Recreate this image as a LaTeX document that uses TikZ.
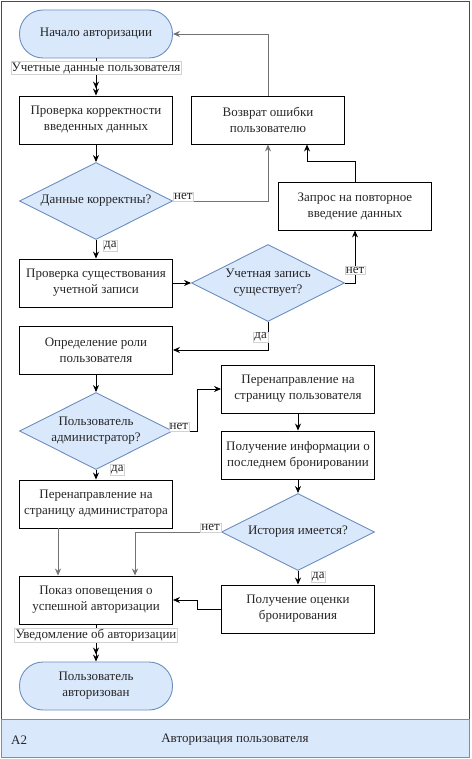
\documentclass[tikz,border=0pt]{standalone}
\usepackage{fontspec}
\setmainfont{Liberation Serif}
\usetikzlibrary{shapes.geometric,arrows.meta}
\definecolor{fillblue}{HTML}{DAE8FC}
\definecolor{lineblue}{HTML}{6C8EBF}
\begin{document}
\begin{tikzpicture}[
  x=1pt, y=-1pt,
  every node/.style={font=\fontsize{13}{16}\selectfont, align=center, inner sep=1pt, text=black!85},
  proc/.style={draw, line width=0.9pt, rectangle, minimum width=153pt, minimum height=48pt},
  term/.style={draw=lineblue, fill=fillblue, line width=0.9pt, rounded corners=23.5pt, minimum width=153pt, minimum height=48pt},
  decide/.style={draw=lineblue, fill=fillblue, line width=0.9pt, diamond, aspect=2, minimum width=153pt, minimum height=77pt, inner sep=0pt},
  lbl/.style={draw=gray!35, fill=white, line width=0.4pt, font=\fontsize{13}{15}\selectfont, inner sep=1pt},
  flow/.style={line width=0.9pt, -{Stealth[length=7pt,width=6pt]}},
  gflow/.style={flow, draw=black!55},
  dflow/.style={line width=0.9pt, -{Stealth[length=7pt,width=6pt]Stealth[length=7pt,width=6pt]}}
]
  \useasboundingbox (0,0) rectangle (471,759);
  % frame and title band
  \draw[black!70, line width=0.9pt] (1,1) rectangle (469,757);
  \draw[black!45, fill=fillblue, line width=0.9pt] (1,719) rectangle (469,757);
  \node[anchor=west] (code) at (10,740) {A2};
  \node (title) at (235,740) {Авторизация пользователя};

  % left column
  \node[term] (start) at (96,34) {Начало авторизации};
  \node[proc] (check) at (96,120) {Проверка корректности\\введенных данных};
  \node[decide] (valid) at (96,201) {Данные корректны?};
  \node[proc] (exist) at (96,283) {Проверка существования\\учетной записи};
  \node[proc] (role) at (96,350) {Определение роли\\пользователя};
  \node[decide] (admin) at (96,431) {Пользователь\\администратор?};
  \node[proc] (adminpg) at (96,504) {Перенаправление на\\страницу администратора};
  \node[proc] (notify) at (96,600) {Показ оповещения о\\успешной авторизации};
  \node[term] (done) at (96,686) {Пользователь\\авторизован};

  % right columns
  \node[proc] (err) at (268,120) {Возврат ошибки\\пользователю};
  \node[decide] (acc) at (268,283) {Учетная запись\\существует?};
  \node[proc] (retry) at (355,206) {Запрос на повторное\\введение данных};
  \node[proc] (userpg) at (298,389) {Перенаправление на\\страницу пользователя};
  \node[proc] (info) at (298,455) {Получение информации о\\последнем бронировании};
  \node[decide] (hist) at (298,532) {История имеется?};
  \node[proc] (rate) at (298,609) {Получение оценки\\бронирования};

  % connectors
  \draw[dflow] (start) -- node[lbl, pos=0.26] {Учетные данные пользователя} (check);
  \draw[flow] (check) -- (valid);
  \draw[gflow] (valid.east) -| node[lbl, pos=0, anchor=south west] {нет} (err.south);
  \draw[gflow] (err.north) |- (start.east);
  \draw[flow] (valid) -- node[lbl, pos=0, anchor=north west, xshift=7pt] {да} (exist);
  \draw[flow] (exist) -- (acc);
  \draw[flow] (acc.east) -| node[lbl, pos=0.62] {нет} (retry.south);
  \draw[flow] (retry.north) |- ++(0,-20) -| ([xshift=39pt]err.south);
  \draw[flow] (acc.south) |- node[lbl, pos=0.27, anchor=east] {да} (role.east);
  \draw[flow] (role) -- (admin);
  \draw[flow] (admin.east) -- node[lbl, pos=0.25, above] {нет} ++(24,0) |- (userpg.west);
  \draw[flow] (admin) -- node[lbl, pos=0, anchor=west, xshift=14pt] {да} (adminpg);
  \draw[flow] (userpg) -- (info);
  \draw[flow] (info) -- (hist);
  \draw[gflow] (hist.west) -| node[lbl, pos=0, anchor=south east] {нет} ([xshift=39pt]notify.north);
  \draw[flow] (hist) -- node[lbl, pos=0, anchor=north west, xshift=13pt] {да} (rate);
  \draw[flow] (rate.west) -- ++(-24,0) |- (notify.east);
  \draw[gflow] ([xshift=-38pt]adminpg.south) -- ([xshift=-38pt]notify.north);
  \draw[dflow] (notify) -- node[lbl, pos=0.29] {Уведомление об авторизации} (done);
\end{tikzpicture}
\end{document}
